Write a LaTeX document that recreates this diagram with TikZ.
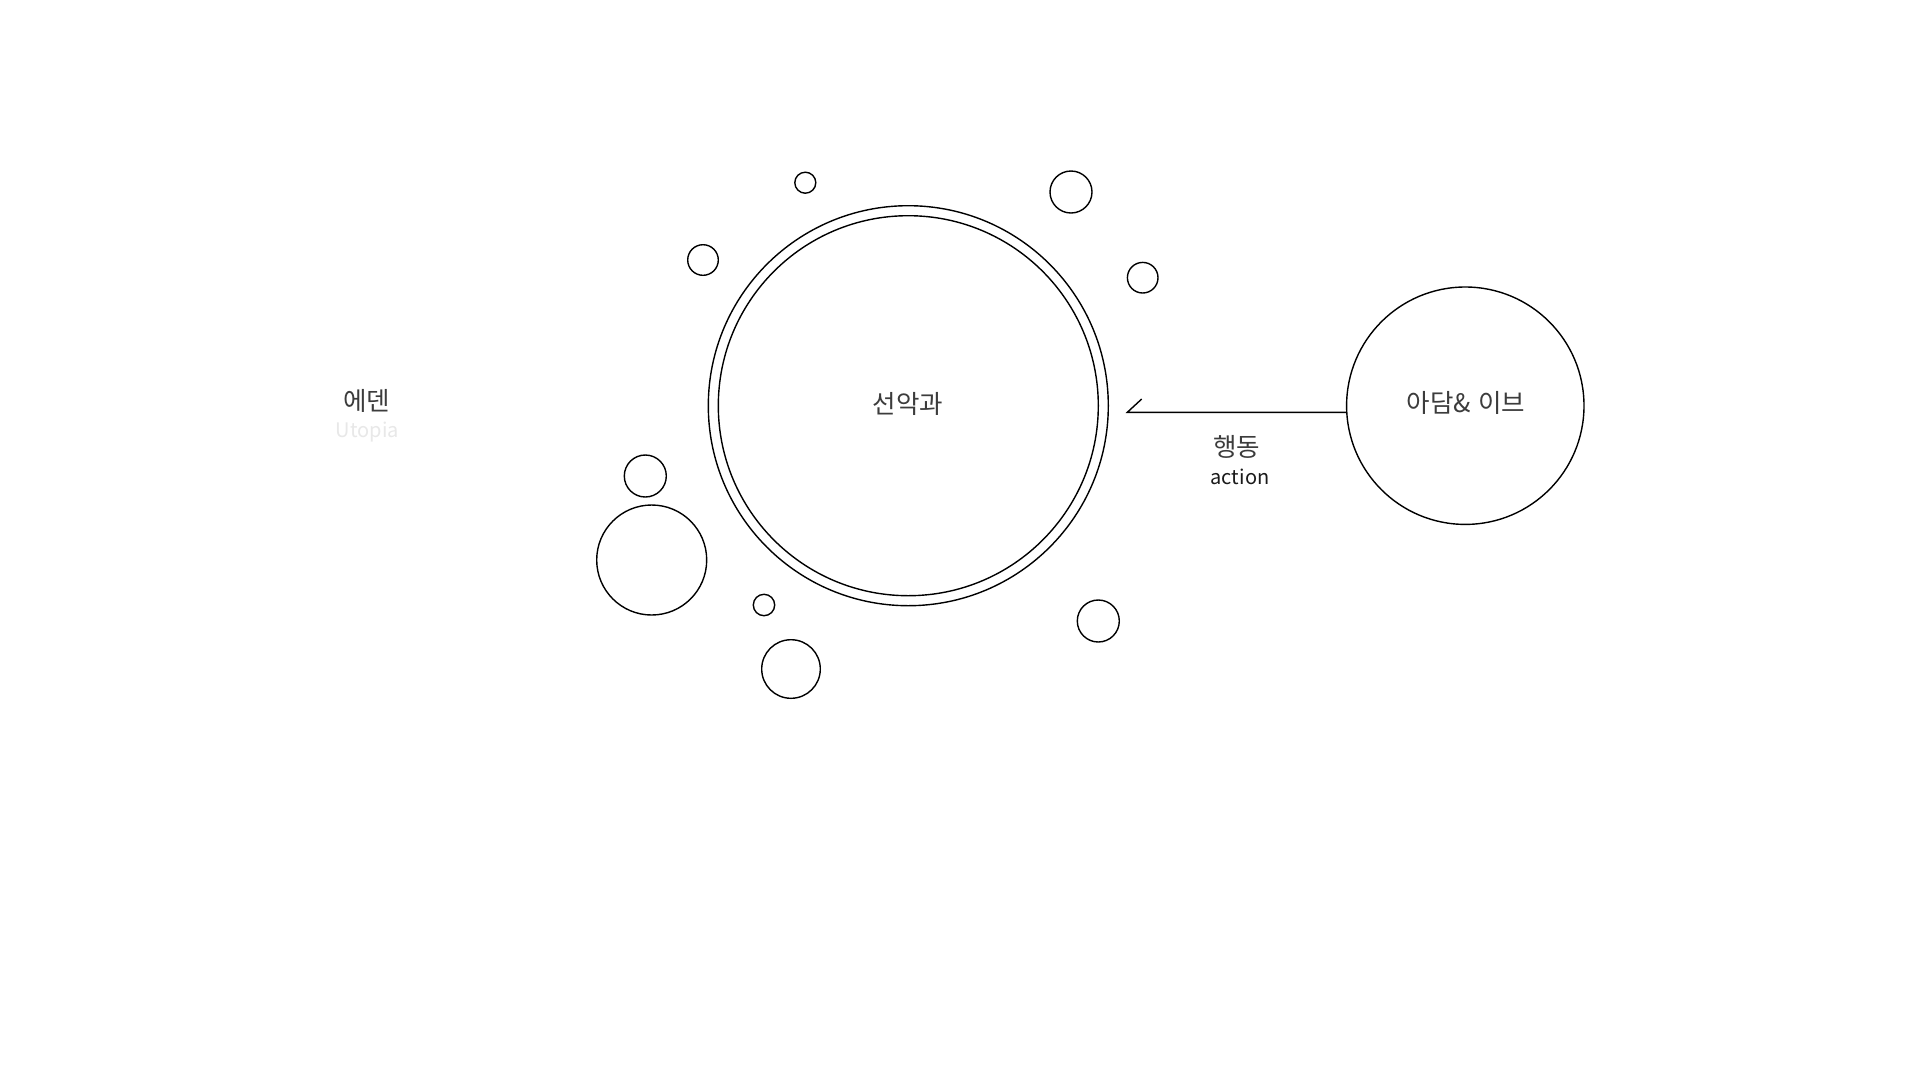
\documentclass[tikz,border=0pt]{standalone}
\usepackage{fontspec}
\setmainfont{Noto Sans CJK KR}
\definecolor{txtgray}{HTML}{3C3C3C}
\definecolor{ghost}{HTML}{E8E8E8}
\definecolor{ink}{HTML}{1A1A1A}
\begin{document}
\begin{tikzpicture}[x=1pt,y=-1pt,
  bubble/.style={circle,draw=black,line width=1.4pt,inner sep=0pt},
  ko/.style={anchor=base,text=txtgray,font=\fontsize{25.5}{30}\selectfont,inner sep=0pt},
  en/.style={anchor=base,font=\fontsize{20}{24}\selectfont,inner sep=0pt},
  conn/.style={draw=black,line width=1.4pt}]
\fill[white] (0,0) rectangle (1920,1080);
\useasboundingbox (0,0) rectangle (1920,1080);
% Eden label
\node[ko] (eden) at (366.7,410) {에덴};
\node[en,text=ghost] (utopia) at (367.3,437) {Utopia};
% main fruit circle (double)
\node[bubble,minimum size=400pt] (fruitout) at (908.3,405.7) {};
\node[bubble,minimum size=380pt] (fruit) at (908.3,405.7) {};
\node[ko] (fruitlbl) at (908,413) {선악과};
% small bubbles
\node[bubble,minimum size=21pt] (b1) at (805.3,182.7) {};
\node[bubble,minimum size=42pt] (b2) at (1071,192) {};
\node[bubble,minimum size=30.6pt] (b3) at (703,260) {};
\node[bubble,minimum size=30.6pt] (b4) at (1142.7,277.7) {};
\node[bubble,minimum size=42pt] (b5) at (645.3,476) {};
\node[bubble,minimum size=110pt] (b6) at (651.7,560) {};
\node[bubble,minimum size=21.4pt] (b7) at (764,605) {};
\node[bubble,minimum size=58.6pt] (b8) at (791,669) {};
\node[bubble,minimum size=42pt] (b9) at (1098.3,621) {};
% Adam & Eve
\node[bubble,minimum size=237.4pt] (adam) at (1465.3,405.7) {};
\node[ko] (adamlbl) at (1466,412.5) {아담\&\hspace{7pt}이브};
% action connector
\coordinate (tip) at (1127.3,412.3);
\draw[conn] (adam.west |- tip) -- (tip) -- ++(14.4,-13.3);
\node[ko] (act) at (1236.7,456.5) {행동};
\node[en,text=ink] (acten) at (1240,484) {action};
\end{tikzpicture}
\end{document}
